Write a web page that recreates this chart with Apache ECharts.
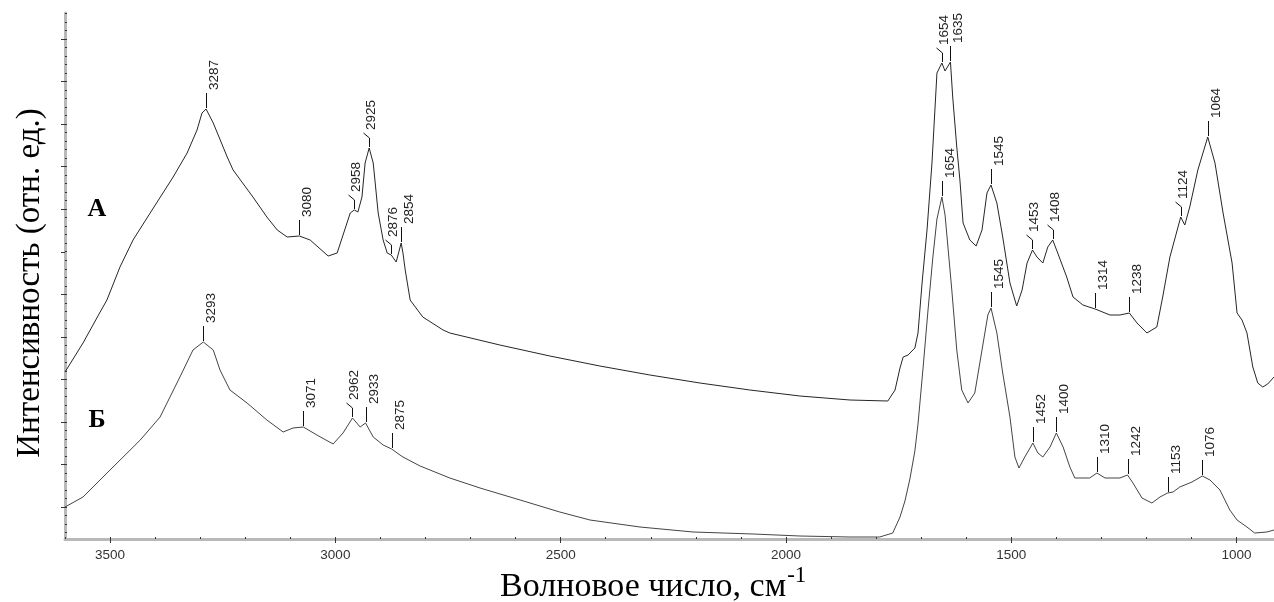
<!DOCTYPE html>
<html><head><meta charset="utf-8">
<script src="https://cdn.jsdelivr.net/npm/echarts@6/dist/echarts.min.js"></script>
<style>html,body{margin:0;padding:0;background:#fff}#c{width:1274px;height:602px}</style>
</head><body><div id="c"></div>
<script>
// Spectrum A (upper curve): wavenumber (cm-1) and relative intensity
const waveA = [3600,3560,3522,3507,3478,3449,3411,3360,3329,3307,3296,3287,3271,3240,3227,3183,3152,3129,3107,3080,3056,3016,2996,2967,2958,2950,2941,2934,2925,2916,2905,2894,2885,2876,2865,2854,2850,2845,2834,2806,2761,2746,2635,2524,2413,2302,2191,2080,1969,1858,1774,1758,1747,1740,1729,1714,1707,1698,1687,1676,1665,1654,1647,1635,1630,1621,1614,1607,1592,1578,1565,1554,1545,1532,1519,1503,1488,1476,1465,1453,1443,1430,1419,1408,1397,1377,1363,1341,1314,1281,1259,1238,1221,1199,1177,1164,1148,1124,1115,1104,1086,1064,1048,1030,1010,999,988,977,964,953,942,931,917];
const intA = [167,196,227,239,272,299,326,362,386,409,426,430,416,382,369,342,322,309,302,303,299,283,286,326,329,327,342,376,391,376,326,299,286,284,277,296,286,269,239,222,209,206,194,183,173,164,156,149,143,139,138,149,171,182,184,191,206,256,309,376,466,476,468,477,442,392,359,316,299,293,309,346,354,336,302,256,233,249,276,289,282,276,292,299,286,262,242,234,230,224,224,226,216,206,212,242,282,322,314,332,369,402,376,326,276,226,219,206,172,156,152,155,162];
// Spectrum Б (lower curve)
const waveB = [3600,3560,3500,3433,3389,3345,3316,3293,3271,3256,3234,3196,3152,3116,3094,3071,3041,3005,2983,2962,2945,2933,2916,2894,2875,2863,2850,2812,2746,2679,2590,2502,2435,2324,2206,2073,1969,1858,1792,1763,1747,1736,1725,1714,1707,1696,1685,1674,1665,1654,1647,1641,1632,1621,1610,1596,1581,1565,1552,1545,1532,1519,1503,1492,1483,1470,1452,1441,1430,1414,1400,1385,1370,1359,1326,1310,1292,1259,1242,1230,1210,1188,1170,1153,1141,1126,1099,1076,1059,1037,1015,999,977,960,933,917];
const intB = [32,42,69,99,122,162,189,197,189,169,149,136,119,107,111,112,104,95,106,121,112,116,102,94,90,86,82,73,61,51,39,27,19,12,7,5,3,2,2,6,22,38,60,88,115,170,228,282,320,342,324,294,249,189,149,136,146,189,224,231,206,166,122,82,71,82,96,86,82,92,106,92,72,61,61,66,61,61,64,56,41,36,42,46,47,52,57,63,59,49,29,19,12,6,7,9];
// Axis tick labels
const xTickLabels = [3500,3000,2500,2000,1500,1000];
// Peak annotations
const peaksA = [3287,3080,2958,2925,2876,2854,1654,1635,1545,1453,1408,1314,1238,1124,1064];
const slantA = [2958,2925,2876,1654,1453,1408,1124];
const peaksB = [3293,3071,2962,2933,2875,1654,1545,1452,1400,1310,1242,1153,1076];
const slantB = [2962];

const X_MIN = 917, X_MAX = 3600, Y_MAX = 526;
const Y_TICK0 = 500, Y_STEP = 42.55;

function zip(w, v){ return w.map((x,i)=>[x, v[i]]); }
function lookup(w, v, x){
  for (let i=0;i<w.length-1;i++){
    if ((w[i]-x)*(w[i+1]-x) <= 0){
      const t = (x-w[i])/(w[i+1]-w[i]);
      return v[i] + t*(v[i+1]-v[i]);
    }
  }
  return v[v.length-1];
}
const xMinor = []; for (let v=1000; v<=3600; v+=100) xMinor.push(v);
const yMajor = []; for (let k=0; k<12; k++) yMajor.push(Y_TICK0 - k*Y_STEP);
const yMinor = []; for (let v=Y_TICK0+3*Y_STEP/5; v>0; v-=Y_STEP/5) yMinor.push(v);

const FONT_S = '"Liberation Sans", Arial, sans-serif';
const FONT_SERIF = '"Liberation Serif", "Times New Roman", serif';

function peakSeries(peaks, slants, w, v){
  return {
    type:'custom', coordinateSystem:'cartesian2d', clip:false, silent:true, z:5,
    xAxisIndex:0, yAxisIndex:0,
    data: peaks.map(p => [p, lookup(w, v, p), slants.indexOf(p) >= 0 ? 1 : 0]),
    encode:{x:0, y:1},
    renderItem: function(params, api){
      const pt = api.coord([api.value(0), api.value(1)]);
      const px = Math.round(pt[0]) + 0.5, py = pt[1];
      const s = api.value(2);
      let pts, top, tx;
      if (s) { pts = [[px,py-1],[px,py-10],[px-6,py-15]]; top = py-15; tx = px+2; }
      else { pts = [[px,py-1],[px,py-16]]; top = py-16; tx = px+8; }
      return {type:'group', children:[
        {type:'polyline', shape:{points:pts}, style:{stroke:'#111', lineWidth:1, fill:null}},
        {type:'text', x:tx, y:top-3, rotation:Math.PI/2,
          style:{text:String(api.value(0)), fill:'#222', font:'13.5px '+FONT_S,
                 align:'left', verticalAlign:'middle', textAlign:'left', textVerticalAlign:'middle'}}
      ]};
    }
  };
}

const chart = echarts.init(document.getElementById('c'), null, {renderer:'canvas'});
chart.setOption({
  animation:false,
  backgroundColor:'#fff',
  grid:{left:65, right:0, top:13, bottom:63, containLabel:false},
  xAxis:[{
    type:'value', inverse:true, min:X_MIN, max:X_MAX, position:'bottom',
    axisLine:{show:true, onZero:false, lineStyle:{color:'#b9b9b9', width:3}},
    axisTick:{show:true, customValues:xTickLabels, length:4, inside:false, lineStyle:{color:'#333', width:1}},
    axisLabel:{show:true, customValues:xTickLabels, margin:9, color:'#333', fontSize:13.5, fontFamily:FONT_S,
      formatter:function(v){ return String(v); }},
    splitLine:{show:false}
  },{
    type:'value', inverse:true, min:X_MIN, max:X_MAX, position:'bottom', offset:0,
    axisLine:{show:false, onZero:false},
    axisTick:{show:true, customValues:xMinor, length:2, inside:true, lineStyle:{color:'#333', width:1}},
    axisLabel:{show:false}, splitLine:{show:false}
  }],
  yAxis:[{
    type:'value', min:0, max:Y_MAX, position:'left',
    axisLine:{show:true, onZero:false, lineStyle:{color:'#b9b9b9', width:3}},
    axisTick:{show:true, customValues:yMajor, length:4, inside:false, lineStyle:{color:'#333', width:1}},
    axisLabel:{show:false}, splitLine:{show:false}
  },{
    type:'value', min:0, max:Y_MAX, position:'left', offset:0,
    axisLine:{show:false, onZero:false},
    axisTick:{show:true, customValues:yMinor, length:2, inside:true, lineStyle:{color:'#333', width:1}},
    axisLabel:{show:false}, splitLine:{show:false}
  }],
  series:[
    {type:'line', name:'А', data:zip(waveA, intA), showSymbol:false, symbol:'none', smooth:false,
     lineStyle:{color:'#262626', width:1}, z:3, silent:true},
    {type:'line', name:'Б', data:zip(waveB, intB), showSymbol:false, symbol:'none', smooth:false,
     lineStyle:{color:'#444', width:1}, z:3, silent:true},
    peakSeries(peaksA, slantA, waveA, intA),
    peakSeries(peaksB, slantB, waveB, intB)
  ],
  graphic:[
    {type:'text', x:97, y:209, style:{text:'А', font:'bold 26px '+FONT_SERIF, fill:'#000',
      align:'center', verticalAlign:'middle', textAlign:'center', textVerticalAlign:'middle'}},
    {type:'text', x:97, y:420, style:{text:'Б', font:'bold 26px '+FONT_SERIF, fill:'#000',
      align:'center', verticalAlign:'middle', textAlign:'center', textVerticalAlign:'middle'}},
    {type:'text', x:30, y:283, rotation:Math.PI/2, style:{text:'Интенсивность (отн. ед.)', font:'33px '+FONT_SERIF, fill:'#000',
      align:'center', verticalAlign:'middle', textAlign:'center', textVerticalAlign:'middle'}},
    {type:'text', x:500, y:584, style:{
      text:'{a|Волновое число, см}{b|-1}', fill:'#000',
      align:'left', verticalAlign:'middle', textAlign:'left', textVerticalAlign:'middle',
      rich:{
        a:{fontSize:34, fontFamily:FONT_SERIF, fill:'#000', lineHeight:40, verticalAlign:'bottom'},
        b:{fontSize:23, fontFamily:FONT_SERIF, fill:'#000', lineHeight:40, verticalAlign:'top', padding:[0,0,0,1]}
      }}}
  ]
});
</script></body></html>
